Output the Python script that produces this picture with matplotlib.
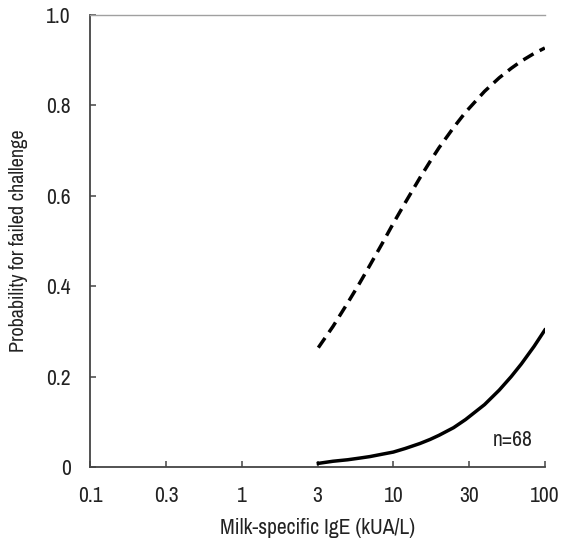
import numpy as np
import matplotlib
matplotlib.use("Agg")
import matplotlib.pyplot as plt
from matplotlib import font_manager

# values (x on a log axis, 3 ~ half decade)
ige = [3.2, 4, 5, 6, 7, 8.5, 10, 12, 15, 17.5, 20, 25, 30, 40, 50, 60, 70, 85, 100]
p_dashed = [0.264, 0.311, 0.363, 0.407, 0.446, 0.496, 0.539, 0.585, 0.640, 0.676,
            0.706, 0.751, 0.785, 0.831, 0.861, 0.882, 0.898, 0.915, 0.927]
p_solid = [0.008, 0.0127, 0.016, 0.0197, 0.023, 0.0285, 0.033, 0.041, 0.052, 0.061,
           0.070, 0.087, 0.105, 0.138, 0.170, 0.200, 0.228, 0.267, 0.303]

xtick_pos = [0.1, 10 ** -0.5, 1, 10 ** 0.5, 10, 10 ** 1.5, 100]
xtick_labels = ["0.1", "0.3", "1", "3", "10", "30", "100"]
ytick_pos = [0, 0.2, 0.4, 0.6, 0.8, 1.0]
ytick_labels = ["0", "0.2", "0.4", "0.6", "0.8", "1.0"]

names = sorted({f.name for f in font_manager.fontManager.ttflist})
narrow = [n for n in names if "Narrow" in n or "Condensed" in n]
plt.rcParams['font.family'] = narrow + ['Roboto', 'DejaVu Sans']
plt.rcParams['font.stretch'] = 'condensed'

fig = plt.figure(figsize=(5.64, 5.39), dpi=100)
ax = fig.add_axes([0.16, 0.1336, 0.806, 0.8386])

ax.plot(ige, p_dashed, color="black", lw=2.5, dashes=(3.4, 2.0))
ax.plot(ige, p_solid, color="black", lw=2.5)

ax.set_xscale("log")
ax.set_xlim(0.1, 100)
ax.set_ylim(0, 1.0)
ax.set_xticks(xtick_pos)
ax.set_xticklabels(xtick_labels)
ax.minorticks_off()
ax.set_yticks(ytick_pos)
ax.set_yticklabels(ytick_labels)

for s in ["left", "bottom"]:
    ax.spines[s].set_color("#444444")
    ax.spines[s].set_linewidth(1.3)
ax.spines["top"].set_color("#a0a0a0")
ax.spines["top"].set_linewidth(1.0)
ax.spines["right"].set_visible(False)

ax.tick_params(direction="in", length=4.5, width=1.1, color="#444444",
               labelsize=15.5, pad=14, labelcolor="#222222")

ax.set_xlabel("Milk-specific IgE (kUA/L)", fontsize=15.5, color="#222222", labelpad=8)
ax.set_ylabel("Probability for failed challenge", fontsize=14.5, color="#222222", labelpad=13)

ax.text(0.974, 0.06, "n=68", transform=ax.transAxes, ha="right", va="center",
        fontsize=15.5, color="#222222")

fig.savefig("out.png", dpi=100)
